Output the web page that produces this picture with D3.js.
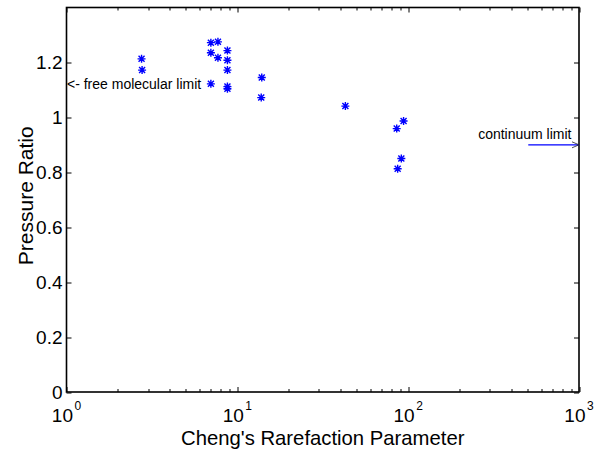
<!DOCTYPE html>
<html>
<head>
<meta charset="utf-8">
<script src="https://cdn.jsdelivr.net/npm/d3@7"></script>
<style>
  body { margin: 0; background: #fff; }
  text { font-family: "Liberation Sans", Arial, sans-serif; fill: #000; }
</style>
</head>
<body>
<div id="chart"></div>
<script>
// Data
//--------------------------
var rarefaction = [2.75, 2.77, 7.0, 7.7, 7.0, 7.7, 8.75, 8.75, 8.75, 7.0, 8.75, 8.75, 13.9, 13.8, 42.9, 94, 85.7, 91.2, 86.8];
var pressureRatio = [1.213, 1.172, 1.272, 1.275, 1.235, 1.217, 1.243, 1.208, 1.172, 1.122, 1.112, 1.104, 1.145, 1.072, 1.041, 0.987, 0.959, 0.850, 0.813];
var yTicks = [0, 0.2, 0.4, 0.6, 0.8, 1, 1.2];
var xDecades = [0, 1, 2, 3];

// Sizing parameters
//------------------
var svgWidth = 607;
var svgHeight = 453;
var margin = { top: 7.5, right: 28, bottom: 61, left: 66.5 };
var width = svgWidth - margin.left - margin.right;
var height = svgHeight - margin.top - margin.bottom;

var svg = d3.select("#chart")
  .append("svg")
  .attr("width", svgWidth)
  .attr("height", svgHeight);

var chartGroup = svg.append("g")
  .attr("transform", `translate(${margin.left}, ${margin.top})`);

// Scales
var xScale = d3.scaleLog().domain([1, 1000]).range([0, width]);
var yScale = d3.scaleLinear().domain([0, 1.4]).range([height, 0]);

// minor ticks for log axis
var minorTicks = [];
xDecades.slice(0, 3).forEach(function(p) {
  for (var k = 2; k <= 9; k++) minorTicks.push(k * Math.pow(10, p));
});
var majorTicks = xDecades.map(p => Math.pow(10, p));

// Axes box with inward ticks
//---------------------------
var tickGroup = chartGroup.append("g").attr("stroke", "#000").attr("stroke-width", 1);

majorTicks.forEach(function(v) {
  var x = Math.round(xScale(v)) + 0.5;
  tickGroup.append("line").attr("x1", x).attr("x2", x).attr("y1", height).attr("y2", height - 5);
  tickGroup.append("line").attr("x1", x).attr("x2", x).attr("y1", 0).attr("y2", 5);
});
minorTicks.forEach(function(v) {
  var x = Math.round(xScale(v)) + 0.5;
  tickGroup.append("line").attr("x1", x).attr("x2", x).attr("y1", height).attr("y2", height - 3);
  tickGroup.append("line").attr("x1", x).attr("x2", x).attr("y1", 0).attr("y2", 3);
});
yTicks.forEach(function(v) {
  var y = Math.round(yScale(v)) + 0.5;
  tickGroup.append("line").attr("x1", 0).attr("x2", 5).attr("y1", y).attr("y2", y);
  tickGroup.append("line").attr("x1", width).attr("x2", width - 5).attr("y1", y).attr("y2", y);
});

chartGroup.append("rect")
  .attr("x", 0).attr("y", 0)
  .attr("width", width).attr("height", height)
  .attr("fill", "none")
  .attr("stroke", "#000")
  .attr("stroke-width", 1.6);

// Tick labels
chartGroup.selectAll(".ylab")
  .data(yTicks)
  .enter()
  .append("text")
  .attr("x", -4)
  .attr("y", d => yScale(d) + 6.8)
  .attr("text-anchor", "end")
  .attr("font-size", 19)
  .text(d => d3.format("")(d));

var xLabs = chartGroup.selectAll(".xlab")
  .data(xDecades)
  .enter()
  .append("text")
  .attr("x", d => xScale(Math.pow(10, d)))
  .attr("y", height + 30)
  .attr("text-anchor", "middle")
  .attr("font-size", 19);
xLabs.append("tspan").text("10");
xLabs.append("tspan")
  .attr("dy", -12.5)
  .attr("dx", 1.5)
  .attr("font-size", 12)
  .text(d => d);

// Axis titles
chartGroup.append("text")
  .attr("x", width / 2)
  .attr("y", height + 53)
  .attr("text-anchor", "middle")
  .attr("font-size", 20.3)
  .text("Cheng's Rarefaction Parameter");

chartGroup.append("text")
  .attr("transform", `translate(${-33.5}, ${height / 2 - 4}) rotate(-90)`)
  .attr("text-anchor", "middle")
  .attr("font-size", 21)
  .text("Pressure Ratio");

// Annotations
chartGroup.append("text")
  .attr("x", 0.5)
  .attr("y", yScale(1.12) + 5)
  .attr("font-size", 14)
  .text("<- free molecular limit");

chartGroup.append("text")
  .attr("x", width - 7.5)
  .attr("y", yScale(0.9) - 5.5)
  .attr("text-anchor", "end")
  .attr("font-size", 14)
  .text("continuum limit");

chartGroup.append("line")
  .attr("x1", xScale(530 / 1.05)).attr("x2", width)
  .attr("y1", yScale(0.9)).attr("y2", yScale(0.9))
  .attr("stroke", "#0000ff").attr("stroke-width", 1.2);
chartGroup.append("path")
  .attr("d", `M${width - 7},${yScale(0.9) - 3} L${width},${yScale(0.9)} L${width - 7},${yScale(0.9) + 3}`)
  .attr("fill", "none").attr("stroke", "#222").attr("stroke-width", 0.8);

// Asterisk markers
//-----------------
var pts = rarefaction.map((r, i) => ({ x: r, y: pressureRatio[i] }));
var star = "M-4,0L4,0M0,-4L0,4M-3,-3L3,3M-3,3L3,-3";
chartGroup.selectAll(".pt")
  .data(pts)
  .enter()
  .append("path")
  .attr("transform", d => `translate(${xScale(d.x)}, ${yScale(d.y)})`)
  .attr("d", star)
  .attr("stroke", "#0000ff")
  .attr("stroke-width", 1.4)
  .attr("fill", "none");
</script>
</body>
</html>
